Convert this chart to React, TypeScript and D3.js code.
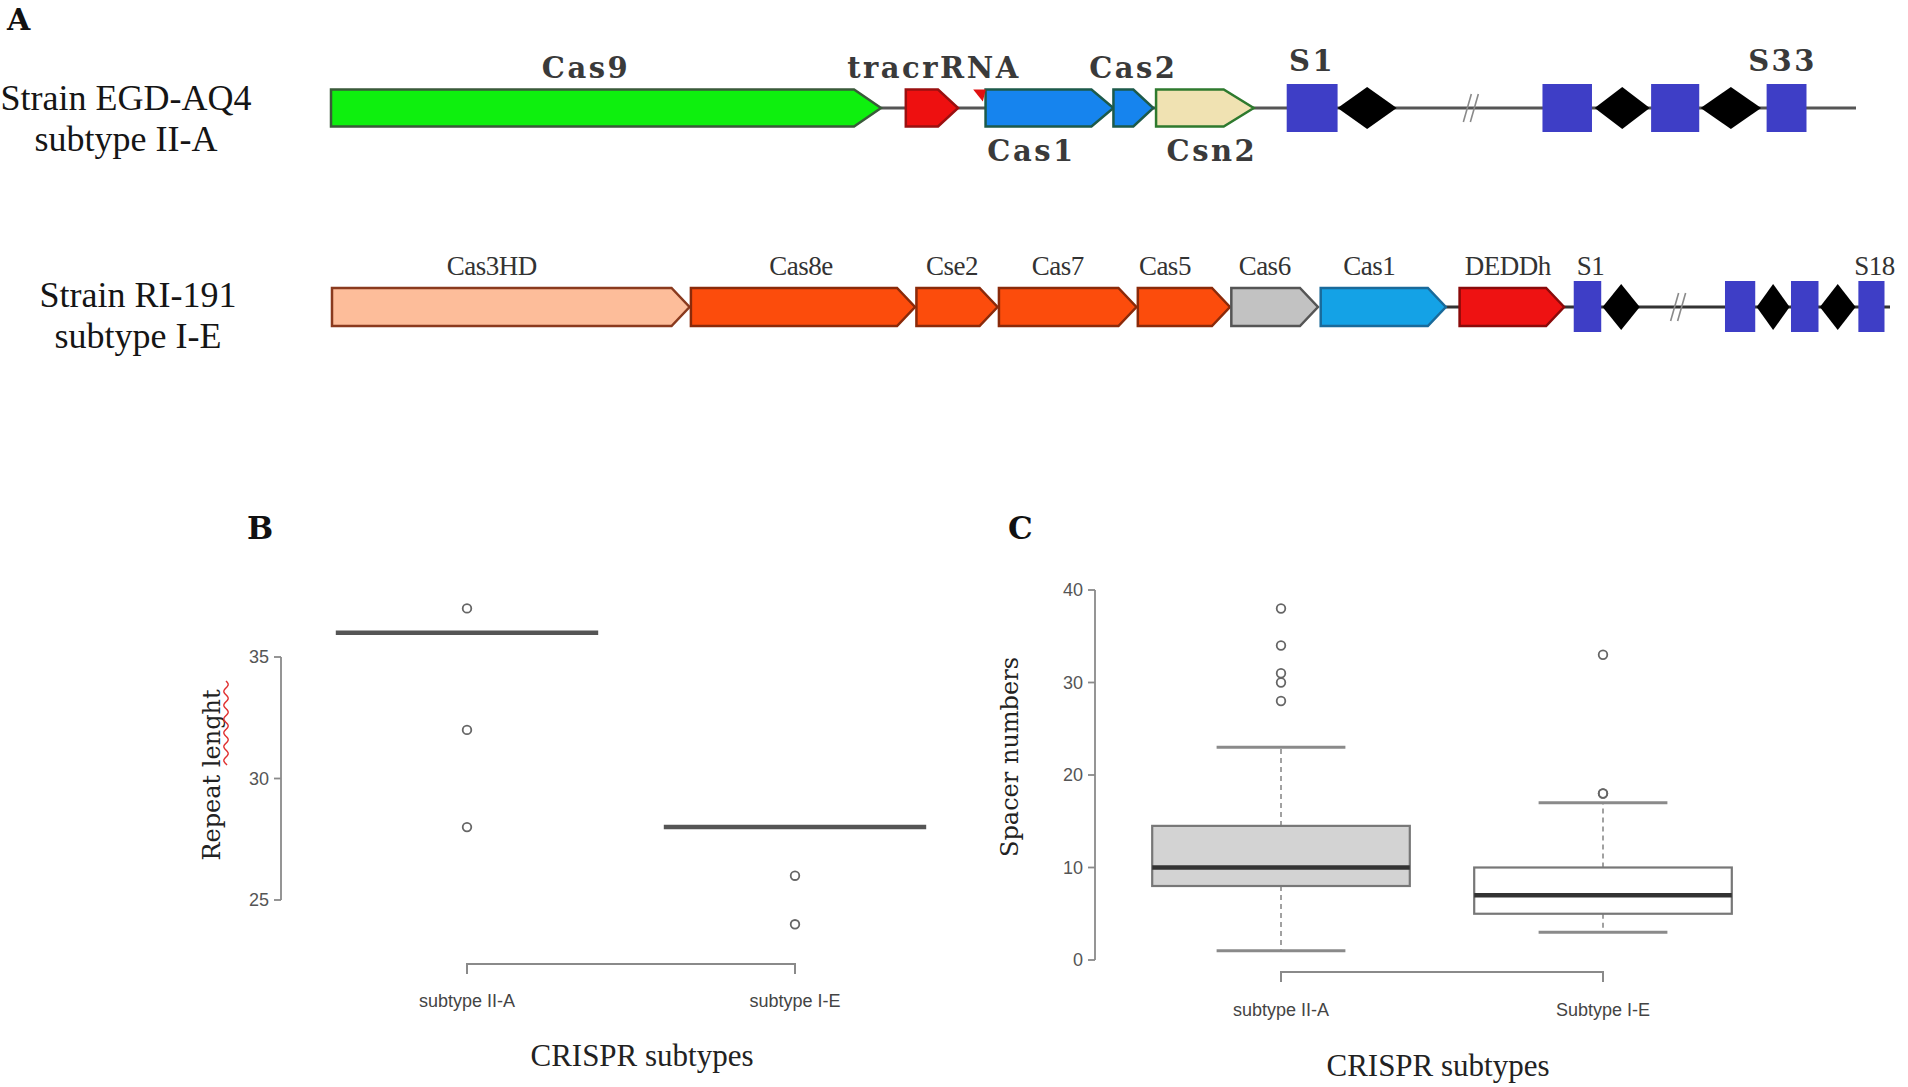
import React from 'react';
import * as d3 from 'd3';

const W = 1908;
const H = 1087;

// ---------- Panel A: loci (positions in kb along the locus) ----------
const locus1Genes = ['Cas9', 'tracrRNA', 'Cas1', 'Cas2', 'Csn2'];
const locus1Start = [0.0, 4.18, 4.76, 5.69, 6.0];
const locus1End = [4.0, 4.56, 5.69, 5.98, 6.71];
const locus1MarkStart = [4.67];
const locus1MarkEnd = [4.74];
const locus1SpacerStart = [6.95, 8.81, 9.6, 10.44];
const locus1SpacerEnd = [7.32, 9.17, 9.95, 10.73];
const locus1RepeatStart = [7.32, 9.19, 9.96];
const locus1RepeatEnd = [7.75, 9.59, 10.4];
const locus1SpacerLabels = ['S1', 'S33'];
const locus1Break = 8.3;
const locus1Length = 11.09;

const locus2Genes = ['Cas3HD', 'Cas8e', 'Cse2', 'Cas7', 'Cas5', 'Cas6', 'Cas1', 'DEDDh'];
const locus2Start = [0.0, 2.61, 4.25, 4.85, 5.86, 6.54, 7.19, 8.2];
const locus2End = [2.6, 4.24, 4.84, 5.85, 6.53, 7.17, 8.1, 8.96];
const locus2SpacerStart = [9.03, 10.13, 10.61, 11.1];
const locus2SpacerEnd = [9.23, 10.35, 10.81, 11.29];
const locus2RepeatStart = [9.24, 10.36, 10.82];
const locus2RepeatEnd = [9.51, 10.6, 11.08];
const locus2SpacerLabels = ['S1', 'S18'];
const locus2Break = 9.8;
const locus2Length = 11.33;

const strainLabels = [
  ['Strain EGD-AQ4', 'subtype II-A'],
  ['Strain RI-191', 'subtype I-E'],
];

// ---------- Panel B: repeat length ----------
const repeatGroups = ['subtype II-A', 'subtype I-E'];
const repeatQ1 = [36, 28];
const repeatMedian = [36, 28];
const repeatQ3 = [36, 28];
const repeatWhiskerLow = [36, 28];
const repeatWhiskerHigh = [36, 28];
const repeatOutliers = [[37, 32, 28], [26, 24]];
const repeatTicks = [25, 30, 35];

// ---------- Panel C: spacer numbers ----------
const spacerGroups = ['subtype II-A', 'Subtype I-E'];
const spacerQ1 = [8, 5];
const spacerMedian = [10, 7];
const spacerQ3 = [14.5, 10];
const spacerWhiskerLow = [1, 3];
const spacerWhiskerHigh = [23, 17];
const spacerOutliers = [[38, 34, 31, 30, 28], [33, 18, 18]];
const spacerTicks = [0, 10, 20, 30, 40];

// ---------- styles ----------
const geneStyle1: Record<string, { fill: string; stroke: string; label: 'above' | 'below'; dx: number; head: number }> = {
  Cas9: { fill: '#0ef00e', stroke: '#3a5a3a', label: 'above', dx: -20, head: 27 },
  tracrRNA: { fill: '#ee1010', stroke: '#9a1010', label: 'above', dx: 2, head: 20 },
  Cas1: { fill: '#1684ee', stroke: '#1d5a4a', label: 'below', dx: -18, head: 22 },
  Cas2: { fill: '#1684ee', stroke: '#1d5a4a', label: 'above', dx: 0, head: 20 },
  Csn2: { fill: '#f0e2b2', stroke: '#2e7a2e', label: 'below', dx: 7, head: 30 },
};
const geneStyle2: Record<string, { fill: string; stroke: string; dx: number }> = {
  Cas3HD: { fill: '#fdbd9a', stroke: '#8a3a1e', dx: -19 },
  Cas8e: { fill: '#fc4c0c', stroke: '#8a2a0a', dx: -2 },
  Cse2: { fill: '#fc4c0c', stroke: '#8a2a0a', dx: -5 },
  Cas7: { fill: '#fc4c0c', stroke: '#8a2a0a', dx: -10 },
  Cas5: { fill: '#fc4c0c', stroke: '#8a2a0a', dx: -19 },
  Cas6: { fill: '#c2c2c2', stroke: '#555555', dx: -10 },
  Cas1: { fill: '#14a2e6', stroke: '#1a6a9a', dx: -14 },
  DEDDh: { fill: '#ee1212', stroke: '#8a0a0a', dx: -4 },
};

function arrowPath(x0: number, x1: number, yc: number, h: number, head: number) {
  const hl = Math.min(head, (x1 - x0) * 0.6);
  const p = d3.path();
  p.moveTo(x0, yc - h / 2);
  p.lineTo(x1 - hl, yc - h / 2);
  p.lineTo(x1, yc);
  p.lineTo(x1 - hl, yc + h / 2);
  p.lineTo(x0, yc + h / 2);
  p.closePath();
  return p.toString();
}

function diamondPath(x0: number, x1: number, yc: number, h: number) {
  const p = d3.path();
  const xm = (x0 + x1) / 2;
  p.moveTo(x0, yc);
  p.lineTo(xm, yc - h / 2);
  p.lineTo(x1, yc);
  p.lineTo(xm, yc + h / 2);
  p.closePath();
  return p.toString();
}

function BreakMark({ x, y }: { x: number; y: number }) {
  return (
    <g stroke="#8a8a8a" strokeWidth={1.6}>
      <line x1={x - 9} y1={y + 14} x2={x - 1} y2={y - 14} />
      <line x1={x - 2} y1={y + 14} x2={x + 6} y2={y - 14} />
    </g>
  );
}

function PanelA() {
  const x1 = d3.scaleLinear().domain([0, locus1Length]).range([331, 1856]);
  const x2 = d3.scaleLinear().domain([0, locus2Length]).range([332, 1890]);
  const y1 = 108;
  const y2 = 307;
  const gh = 37;
  const serifWide = "'DejaVu Serif', serif";
  const serifTimes = "'Liberation Serif', 'Times New Roman', serif";
  return (
    <g>
      <text x={7} y={30} fontFamily={serifWide} fontWeight="bold" fontSize={30} fill="#111">A</text>
      {/* strain labels */}
      {strainLabels.map((lines, i) => (
        <g key={i}>
          {lines.map((t, j) => (
            <text key={j} x={i === 0 ? 126 : 138} y={(i === 0 ? 110 : 307) + j * 41} textAnchor="middle"
              fontFamily={serifTimes} fontSize={36} fill="#151515">{t}</text>
          ))}
        </g>
      ))}
      {/* Row 1 backbone */}
      <line x1={x1(locus1End[0])} x2={x1(locus1Length)} y1={y1} y2={y1} stroke="#555" strokeWidth={3} />
      <BreakMark x={x1(locus1Break)} y={y1} />
      {locus1Genes.map((g, i) => {
        const s = geneStyle1[g];
        const a = x1(locus1Start[i]);
        const b = x1(locus1End[i]);
        return (
          <g key={g}>
            <path d={arrowPath(a, b, y1, gh, s.head)} fill={s.fill} stroke={s.stroke} strokeWidth={2.5} />
            <text x={(a + b) / 2 + s.dx} y={s.label === 'above' ? 78 : 161} textAnchor="middle"
              fontFamily={serifWide} fontWeight="bold" fontSize={29} letterSpacing={2.5} fill="#3a3a3a">{g}</text>
          </g>
        );
      })}
      {locus1MarkStart.map((m, i) => {
        const a = x1(m);
        const b = x1(locus1MarkEnd[i]);
        return <path key={i} d={`M${a},${y1 - gh / 2}L${b + 3},${y1 - gh / 2}L${b},${y1 - gh / 2 + 12}Z`} fill="#e01010" />;
      })}
      {locus1SpacerStart.map((s, i) => (
        <rect key={i} x={x1(s)} y={y1 - 24} width={x1(locus1SpacerEnd[i]) - x1(s)} height={48} fill="#3e3ec6" />
      ))}
      {locus1RepeatStart.map((s, i) => (
        <path key={i} d={diamondPath(x1(s), x1(locus1RepeatEnd[i]), y1, 42)} fill="#000" />
      ))}
      {locus1SpacerLabels.map((l, i) => {
        const idx = i === 0 ? 0 : locus1SpacerStart.length - 1;
        const cx = (x1(locus1SpacerStart[idx]) + x1(locus1SpacerEnd[idx])) / 2;
        return (
          <text key={l} x={cx + (i === 0 ? 0 : -4)} y={71} textAnchor="middle" fontFamily={serifWide}
            fontWeight="bold" fontSize={29} letterSpacing={2.5} fill="#3a3a3a">{l}</text>
        );
      })}

      {/* Row 2 */}
      <line x1={x2(locus2End[6])} x2={x2(locus2Length)} y1={y2} y2={y2} stroke="#333" strokeWidth={3} />
      <BreakMark x={x2(locus2Break)} y={y2} />
      {locus2Genes.map((g, i) => {
        const s = geneStyle2[g];
        const a = x2(locus2Start[i]);
        const b = x2(locus2End[i]);
        return (
          <g key={g}>
            <path d={arrowPath(a, b, y2, 38, 18)} fill={s.fill} stroke={s.stroke} strokeWidth={2.5} />
            <text x={(a + b) / 2 + s.dx} y={275} textAnchor="middle" fontFamily={serifTimes}
              fontSize={27} letterSpacing={-0.5} fill="#333">{g}</text>
          </g>
        );
      })}
      {locus2SpacerStart.map((s, i) => (
        <rect key={i} x={x2(s)} y={y2 - 26} width={x2(locus2SpacerEnd[i]) - x2(s)} height={51} fill="#3e3ec6" />
      ))}
      {locus2RepeatStart.map((s, i) => (
        <path key={i} d={diamondPath(x2(s), x2(locus2RepeatEnd[i]), y2, 46)} fill="#000" />
      ))}
      {locus2SpacerLabels.map((l, i) => {
        const idx = i === 0 ? 0 : locus2SpacerStart.length - 1;
        const cx = (x2(locus2SpacerStart[idx]) + x2(locus2SpacerEnd[idx])) / 2;
        return (
          <text key={l} x={cx + 3} y={275} textAnchor="middle" fontFamily={serifTimes}
            fontSize={27} letterSpacing={-0.5} fill="#333">{l}</text>
        );
      })}
    </g>
  );
}

type BoxProps = {
  groups: string[];
  q1: number[];
  med: number[];
  q3: number[];
  wl: number[];
  wh: number[];
  out: number[][];
  ticks: number[];
  xRange: [number, number];
  yDomain: [number, number];
  yRange: [number, number];
  axisX: number;
  axisBottom: number;
  fills: string[];
  boxStroke: string;
  medianStroke: string;
  medianWidth: number;
  letter: string;
  letterX: number;
  yTitle: string;
  yTitleX: number;
  yTitleY: number;
  xTitleY: number;
  xTitleDx: number;
  catLabelY: number;
  wavy?: boolean;
};

function BoxPanel(p: BoxProps) {
  const x = d3.scalePoint<string>().domain(p.groups).range(p.xRange).padding(0.5);
  const step = x.step();
  const bw = step * 0.8;
  const y = d3.scaleLinear().domain(p.yDomain).range(p.yRange);
  const sans = "'Liberation Sans', Arial, sans-serif";
  const serifTimes = "'Liberation Serif', 'Times New Roman', serif";
  const serifWide = "'DejaVu Serif', serif";
  const tMin = d3.min(p.ticks)!;
  const tMax = d3.max(p.ticks)!;
  const firstX = x(p.groups[0])!;
  const lastX = x(p.groups[p.groups.length - 1])!;
  const titleCx = (firstX + lastX) / 2 + p.xTitleDx;

  let wave: string | null = null;
  if (p.wavy) {
    const pts: [number, number][] = [];
    for (let t = 0; t <= 84; t += 1) pts.push([p.yTitleX + 6 + 2.2 * Math.sin(t / 2.2), p.yTitleY - 94 + t]);
    wave = d3.line()(pts);
  }

  return (
    <g>
      <text x={p.letterX} y={539} fontFamily={serifWide} fontWeight="bold" fontSize={31} fill="#111">{p.letter}</text>
      {/* y axis */}
      <line x1={p.axisX} x2={p.axisX} y1={y(tMin)} y2={y(tMax)} stroke="#8a8a8a" strokeWidth={1.8} />
      {p.ticks.map((t) => (
        <g key={t}>
          <line x1={p.axisX - 7} x2={p.axisX} y1={y(t)} y2={y(t)} stroke="#8a8a8a" strokeWidth={1.8} />
          <text x={p.axisX - 12} y={y(t)} dy="0.36em" textAnchor="end" fontFamily={sans} fontSize={18}
            fill="#555">{t}</text>
        </g>
      ))}
      {/* x axis bracket */}
      <path d={`M${firstX},${p.axisBottom + 10}V${p.axisBottom}H${lastX}V${p.axisBottom + 10}`} fill="none"
        stroke="#8a8a8a" strokeWidth={2} />
      {p.groups.map((g) => (
        <text key={g} x={x(g)} y={p.catLabelY} textAnchor="middle" fontFamily={sans} fontSize={18} fill="#444">{g}</text>
      ))}
      {/* boxes */}
      {p.groups.map((g, i) => {
        const cx = x(g)!;
        const isFlat = p.q1[i] === p.q3[i];
        return (
          <g key={g}>
            {!isFlat && (
              <>
                <line x1={cx} x2={cx} y1={y(p.q3[i])} y2={y(p.wh[i])} stroke="#8a8a8a" strokeWidth={1.6} strokeDasharray="5,4" />
                <line x1={cx} x2={cx} y1={y(p.q1[i])} y2={y(p.wl[i])} stroke="#8a8a8a" strokeWidth={1.6} strokeDasharray="5,4" />
                <line x1={cx - bw / 4} x2={cx + bw / 4} y1={y(p.wh[i])} y2={y(p.wh[i])} stroke="#8a8a8a" strokeWidth={3} />
                <line x1={cx - bw / 4} x2={cx + bw / 4} y1={y(p.wl[i])} y2={y(p.wl[i])} stroke="#8a8a8a" strokeWidth={3} />
                <rect x={cx - bw / 2} y={y(p.q3[i])} width={bw} height={y(p.q1[i]) - y(p.q3[i])} fill={p.fills[i]}
                  stroke={p.boxStroke} strokeWidth={2.2} />
              </>
            )}
            <line x1={cx - bw / 2} x2={cx + bw / 2} y1={y(p.med[i])} y2={y(p.med[i])} stroke={p.medianStroke}
              strokeWidth={p.medianWidth} />
            {p.out[i].map((o, k) => (
              <circle key={k} cx={cx} cy={y(o)} r={4.3} fill="none" stroke="#666" strokeWidth={1.8} />
            ))}
          </g>
        );
      })}
      {/* titles */}
      <text x={titleCx} y={p.xTitleY} textAnchor="middle" fontFamily={serifTimes} fontSize={31} fill="#222">CRISPR subtypes</text>
      <text transform={`translate(${p.yTitleX},${p.yTitleY}) rotate(-90)`} textAnchor="middle" fontFamily={serifWide}
        fontSize={24} fill="#222">{p.yTitle}</text>
      {wave && <path d={wave} fill="none" stroke="#e03030" strokeWidth={1.4} />}
    </g>
  );
}

export default function App() {
  return (
    <svg width={W} height={H} style={{ position: 'absolute', left: 0, top: 0, background: '#fff' }}>
      <rect width={W} height={H} fill="#fff" />
      <PanelA />
      <BoxPanel
        groups={repeatGroups} q1={repeatQ1} med={repeatMedian} q3={repeatQ3} wl={repeatWhiskerLow} wh={repeatWhiskerHigh}
        out={repeatOutliers} ticks={repeatTicks} xRange={[303, 959]} yDomain={[25, 35]} yRange={[900, 657]}
        axisX={281} axisBottom={964} fills={['#fff', '#fff']} boxStroke="#666" medianStroke="#555" medianWidth={4.5}
        letter="B" letterX={247} yTitle="Repeat lenght" yTitleX={220} yTitleY={775} xTitleY={1066} xTitleDx={11}
        catLabelY={1007} wavy
      />
      <BoxPanel
        groups={spacerGroups} q1={spacerQ1} med={spacerMedian} q3={spacerQ3} wl={spacerWhiskerLow} wh={spacerWhiskerHigh}
        out={spacerOutliers} ticks={spacerTicks} xRange={[1120, 1764]} yDomain={[0, 40]} yRange={[960, 590]}
        axisX={1095} axisBottom={972} fills={['#d3d3d3', '#fff']} boxStroke="#777" medianStroke="#333" medianWidth={4.5}
        letter="C" letterX={1008} yTitle="Spacer numbers" yTitleX={1018} yTitleY={757} xTitleY={1076} xTitleDx={-4}
        catLabelY={1016}
      />
    </svg>
  );
}
